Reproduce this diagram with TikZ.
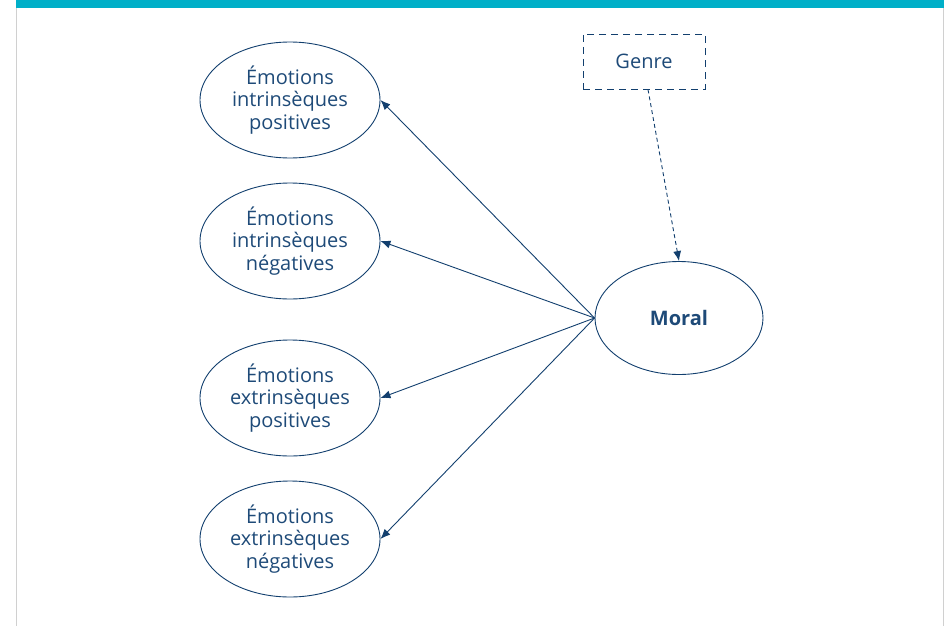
\documentclass[tikz,border=0pt]{standalone}
\usepackage{fontspec}
\setmainfont{Open Sans}
\usetikzlibrary{arrows.meta,shapes.geometric}
\definecolor{teal}{HTML}{00AFC8}
\definecolor{navy}{HTML}{123F6E}
\definecolor{txt}{HTML}{1E4A78}
\definecolor{frame}{HTML}{D0D0D0}
\begin{document}
\begin{tikzpicture}[x=1pt,y=-1pt,
  emo/.style={ellipse,draw=navy,line width=0.9pt,minimum width=180pt,minimum height=116pt,inner sep=0pt,align=center,text=txt,font=\fontsize{20}{22.5}\selectfont},
  conn/.style={draw=navy,line width=0.9pt,-{Latex[length=10pt,width=8pt]}}]
\useasboundingbox (0,0) rectangle (949,626);
\fill[teal] (16,0) rectangle (944,8);
\draw[frame,line width=1.5pt] (16.5,8) -- (16.5,626);
\draw[frame,line width=1.5pt] (943.5,8) -- (943.5,626);
\node[emo] (e1) at (290,100) {Émotions\\intrinsèques\\positives};
\node[emo] (e2) at (290,241) {Émotions\\intrinsèques\\négatives};
\node[emo] (e3) at (290,398) {Émotions\\extrinsèques\\positives};
\node[emo] (e4) at (290,539) {Émotions\\extrinsèques\\négatives};
\node[ellipse,draw=navy,line width=0.9pt,minimum width=168pt,minimum height=113pt,inner sep=0pt,text=txt,font=\fontsize{20}{22.5}\selectfont\bfseries] (m) at (679,318) {Moral};
\node[draw=navy,dashed,dash pattern=on 7pt off 5pt,line width=0.9pt,minimum width=122pt,minimum height=55pt,text=txt,font=\fontsize{20}{22.5}\selectfont] (g) at (644,61.5) {Genre};
\draw[conn] (m.west) -- (e1.east);
\draw[conn] (m.west) -- (e2.east);
\draw[conn] (m.west) -- (e3.east);
\draw[conn] (m.west) -- (e4.east);
\draw[conn,dashed,dash pattern=on 4pt off 3pt] (g.south) ++(4,0) coordinate (gs) -- (m.north);
\end{tikzpicture}
\end{document}
